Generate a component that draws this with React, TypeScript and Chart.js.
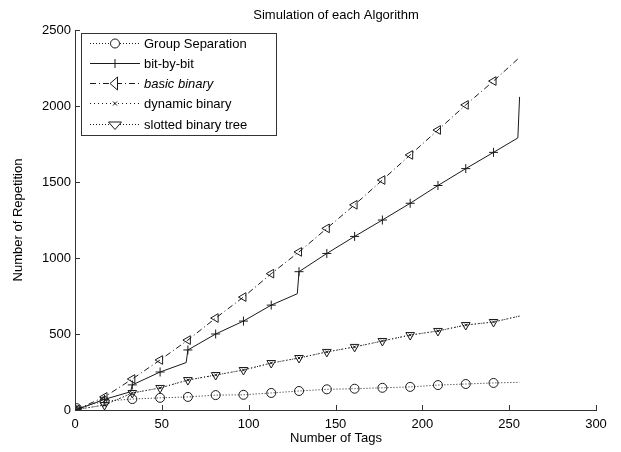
import React, { useEffect, useRef } from "react";
import { Chart, registerables } from "chart.js";
Chart.register(...registerables);

const chartTitle = "Simulation of each Algorithm";
const xTitle = "Number of Tags";
const yTitle = "Number of Repetition";
const xTicks = [0, 50, 100, 150, 200, 250, 300];
const yTicks = [0, 500, 1000, 1500, 2000, 2500];

const tags = [1, 17, 33, 49, 65, 81, 97, 113, 129, 145, 161, 177, 193, 209, 225, 241, 256];
const groupSeparation = [12, 58, 72, 80, 86, 98, 100, 112, 125, 136, 140, 146, 152, 164, 171, 178, 182];
const bitTags = [1, 17, 32, 33, 49, 64, 65, 81, 97, 113, 128, 129, 145, 161, 177, 193, 209, 225, 241, 255, 256];
const bitByBit = [2, 70, 120, 165, 250, 312, 395, 500, 585, 690, 765, 910, 1030, 1142, 1250, 1360, 1477, 1588, 1695, 1790, 2060];
const basicBinary = [3, 86, 204, 329, 460, 605, 743, 897, 1040, 1195, 1350, 1513, 1678, 1842, 2007, 2164, 2320];
const dynamicBinary = [3, 33, 112, 145, 197, 230, 263, 309, 342, 382, 415, 454, 493, 520, 559, 579, 618];
const slottedBinaryTree = [3, 33, 112, 145, 197, 230, 263, 309, 342, 382, 415, 454, 493, 520, 559, 579, 618];

const seriesNames = ["Group Separation", "bit-by-bit", "basic binary", "dynamic binary", "slotted binary tree"];

const FONT = "'Liberation Sans', Arial, Helvetica, sans-serif";
const INK = "#1a1a1a";

function pts(xs: number[], ys: number[]) {
  return xs.map((x, i) => ({ x, y: ys[i] }));
}

function isMarker(x: number) {
  return (x - 1) % 16 === 0 && x < 256;
}

function drawMarker(ctx: CanvasRenderingContext2D, style: string, r: number, rot: number, x: number, y: number) {
  ctx.save();
  ctx.translate(x, y);
  ctx.rotate((rot * Math.PI) / 180);
  ctx.beginPath();
  if (style === "circle") {
    ctx.arc(0, 0, r, 0, Math.PI * 2);
  } else if (style === "triangle") {
    const h = r * 1.5;
    const half = r * 1.3;
    ctx.moveTo(0, -r);
    ctx.lineTo(half, h - r);
    ctx.lineTo(-half, h - r);
    ctx.closePath();
  } else if (style === "cross") {
    ctx.moveTo(-r, 0); ctx.lineTo(r, 0);
    ctx.moveTo(0, -r); ctx.lineTo(0, r);
  } else if (style === "crossRot") {
    ctx.moveTo(-r, -r); ctx.lineTo(r, r);
    ctx.moveTo(-r, r); ctx.lineTo(r, -r);
  }
  ctx.fillStyle = "#fff";
  if (style === "circle" || style === "triangle") ctx.fill();
  ctx.stroke();
  ctx.restore();
}

const decorPlugin = {
  id: "decor",
  afterDraw(chart: any) {
    const ctx: CanvasRenderingContext2D = chart.ctx;
    const ca = chart.chartArea;
    const xs = chart.scales.x;
    const ys = chart.scales.y;
    ctx.save();
    // inward ticks
    ctx.strokeStyle = "#333";
    ctx.lineWidth = 1;
    ctx.setLineDash([]);
    ctx.beginPath();
    xTicks.forEach((t) => {
      const px = Math.round(xs.getPixelForValue(t)) + 0.5;
      ctx.moveTo(px, ca.bottom);
      ctx.lineTo(px, ca.bottom - 5);
    });
    yTicks.forEach((t) => {
      const py = Math.round(ys.getPixelForValue(t)) + 0.5;
      ctx.moveTo(ca.left, py);
      ctx.lineTo(ca.left + 5, py);
    });
    ctx.stroke();

    // titles
    ctx.fillStyle = "#000";
    ctx.font = `13px ${FONT}`;
    ctx.textAlign = "center";
    ctx.textBaseline = "middle";
    ctx.fillText(chartTitle, 336, 15);
    ctx.fillText(xTitle, 336, 438);
    ctx.save();
    ctx.translate(18, 220);
    ctx.rotate(-Math.PI / 2);
    ctx.fillText(yTitle, 0, 0);
    ctx.restore();

    // legend
    const lx = 81, ly = 33, lw = 195, lh = 102;
    ctx.fillStyle = "#fff";
    ctx.fillRect(lx, ly, lw, lh);
    ctx.strokeStyle = "#333";
    ctx.strokeRect(lx + 0.5, ly + 0.5, lw, lh);
    const rows = [43, 63, 83, 103, 124];
    chart.data.datasets.forEach((ds: any, i: number) => {
      const y = rows[i];
      ctx.strokeStyle = ds.borderColor;
      ctx.lineWidth = 1;
      ctx.setLineDash(ds.borderDash || []);
      ctx.beginPath();
      ctx.moveTo(90, y + 0.5);
      ctx.lineTo(140, y + 0.5);
      ctx.stroke();
      ctx.setLineDash([]);
      drawMarker(ctx, ds.pointStyle, ds.legendRadius, ds.pointRotation || 0, 115, y + 0.5);
      ctx.fillStyle = "#000";
      ctx.font = (i === 2 ? "italic " : "") + `13px ${FONT}`;
      ctx.textAlign = "left";
      ctx.textBaseline = "middle";
      ctx.fillText(seriesNames[i], 144, y + 1);
    });
    ctx.restore();
  },
};

export default function App() {
  const ref = useRef<HTMLCanvasElement>(null);
  useEffect(() => {
    if (!ref.current) return;
    const radiusFn = (r: number) => (c: any) => {
      const raw = c.raw as any;
      return raw && isMarker(raw.x) ? r : 0;
    };
    const mk = (label: string, data: any[], dash: number[], style: string, r: number, rot = 0) => ({
      label,
      data,
      borderColor: INK,
      backgroundColor: "#fff",
      borderWidth: 1,
      borderDash: dash,
      pointStyle: style,
      pointRotation: rot,
      pointRadius: radiusFn(r),
      pointBorderColor: INK,
      pointBackgroundColor: "rgba(255,255,255,0)",
      pointBorderWidth: 1,
      legendRadius: r,
      fill: false,
      tension: 0,
    });
    const chart = new Chart(ref.current, {
      type: "line",
      data: {
        datasets: [
          mk(seriesNames[0], pts(tags, groupSeparation), [1, 2], "circle", 4.5),
          mk(seriesNames[1], pts(bitTags, bitByBit), [], "cross", 4.5),
          mk(seriesNames[2], pts(tags, basicBinary), [6, 3, 1, 3], "triangle", 5, -90),
          mk(seriesNames[3], pts(tags, dynamicBinary), [1, 3], "crossRot", 2),
          mk(seriesNames[4], pts(tags, slottedBinaryTree), [1, 2], "triangle", 5, 180),
        ] as any,
      },
      options: {
        animation: false,
        responsive: false,
        maintainAspectRatio: false,
        layout: { padding: { top: 30, right: 25, left: 0, bottom: 0 } },
        plugins: {
          legend: { display: false },
          tooltip: { enabled: false },
          title: { display: false },
        },
        scales: {
          x: {
            type: "linear",
            min: 0,
            max: 300,
            afterFit: (s: any) => { s.height = 42; },
            afterBuildTicks: (s: any) => { s.ticks = xTicks.map((v) => ({ value: v })); },
            grid: { display: false, drawTicks: false },
            border: { display: true, color: "#333", width: 1 },
            ticks: { color: "#000", font: { family: FONT, size: 13 }, padding: 7, callback: (v: any) => String(v) },
          },
          y: {
            type: "linear",
            min: 0,
            max: 2500,
            afterFit: (s: any) => { s.width = 75; },
            afterBuildTicks: (s: any) => { s.ticks = yTicks.map((v) => ({ value: v })); },
            grid: { display: false, drawTicks: false },
            border: { display: true, color: "#333", width: 1 },
            ticks: { color: "#000", font: { family: FONT, size: 13 }, padding: 4, callback: (v: any) => String(v) },
          },
        },
      } as any,
      plugins: [decorPlugin],
    });
    return () => chart.destroy();
  }, []);
  return (
    <div style={{ position: "absolute", left: 0, top: 0, width: 621, height: 452, background: "#fff" }}>
      <canvas ref={ref} width={621} height={452} style={{ width: 621, height: 452, display: "block" }} />
    </div>
  );
}
